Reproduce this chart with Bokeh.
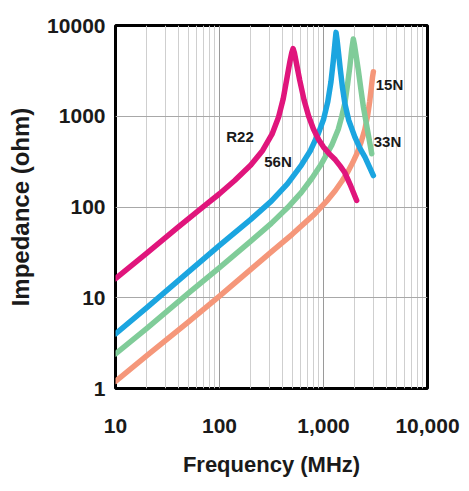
from bokeh.plotting import figure
from bokeh.models import FixedTicker
from bokeh.core.properties import value
from bokeh.embed import file_html
from bokeh.resources import INLINE

# ---- data ----
r22_f = [10, 20, 40, 70, 100, 140, 200, 260, 320, 370, 410, 445, 475, 495, 510, 525, 550, 590, 650, 720, 800, 900, 1000, 1150, 1300, 1450, 1600, 1800, 2084]
r22_z = [16.2, 31, 60, 101, 140, 196, 290, 420, 635, 980, 1560, 2630, 3980, 5000, 5560, 5000, 3800, 2510, 1510, 1000, 725, 550, 457, 380, 331, 282, 240, 178, 118]

n56_f = [10, 20, 50, 100, 200, 315, 450, 613, 750, 889, 1000, 1100, 1180, 1240, 1290, 1320, 1350, 1400, 1450, 1520, 1607, 1750, 2004, 2250, 2505, 2750, 3018]
n56_z = [4.0, 7.8, 19.2, 37.7, 73, 116, 180, 290, 420, 640, 920, 1450, 2400, 4000, 6500, 8400, 7000, 4800, 3300, 2100, 1372, 900, 588, 440, 354, 280, 222]

n33_f = [10, 20, 50, 100, 200, 315, 450, 613, 780, 957, 1200, 1387, 1500, 1607, 1700, 1796, 1870, 1935, 1990, 2080, 2163, 2300, 2420, 2650, 2910]
n33_z = [2.4, 4.6, 11.2, 21.5, 42, 66, 98, 145, 210, 300, 480, 720, 1000, 1400, 2200, 3600, 5500, 7100, 6000, 4300, 3200, 1900, 1260, 700, 386]

n15_f = [10, 20, 50, 100, 200, 315, 500, 824, 1100, 1300, 1500, 1700, 1900, 2100, 2300, 2500, 2650, 2780, 2880, 2960, 3018]
n15_z = [1.2, 2.3, 5.4, 10.4, 20.5, 32, 50, 84, 120, 152, 192, 240, 305, 390, 520, 720, 1000, 1450, 2050, 2700, 3100]

series_names = ["15N", "33N", "56N", "R22"]
series_colors = ["#f5977a", "#80cc99", "#1ba5e0", "#e0157c"]

label_texts = ["R22", "56N", "15N", "33N"]
label_f = [116, 269, 3177, 3041]
label_z = [598, 317, 2240, 527]

x_ticks = [10, 100, 1000, 10000]
x_tick_labels = ["10", "100", "1,000", "10,000"]
y_ticks = [1, 10, 100, 1000, 10000]
y_tick_labels = ["1", "10", "100", "1000", "10000"]

FONT = "Liberation Sans"

p = figure(width=469, height=491, x_axis_type="log", y_axis_type="log",
           x_range=(10, 10000), y_range=(1, 10000),
           output_backend="svg", toolbar_location=None,
           min_border_left=115, min_border_right=42,
           min_border_top=25, min_border_bottom=103)

p.background_fill_color = "white"
p.border_fill_color = "white"
p.outline_line_color = "black"
p.outline_line_width = 3

x_minor = [k * 10 ** n for n in range(1, 4) for k in range(2, 10)]
p.xaxis.ticker = FixedTicker(ticks=x_ticks, minor_ticks=x_minor)
p.yaxis.ticker = FixedTicker(ticks=y_ticks)
p.xaxis.major_label_overrides = {t: l for t, l in zip(x_ticks, x_tick_labels)}
p.yaxis.major_label_overrides = {t: l for t, l in zip(y_ticks, y_tick_labels)}

for ax in (p.xaxis, p.yaxis):
    ax.axis_line_color = None
    ax.major_tick_line_color = None
    ax.minor_tick_line_color = None
    ax.major_tick_out = 0
    ax.minor_tick_out = 0
    ax.major_tick_in = 0
    ax.minor_tick_in = 0
    ax.major_label_text_font = FONT
    ax.major_label_text_font_style = "bold"
    ax.major_label_text_font_size = "21px"
    ax.major_label_text_color = "#1a1a1a"
    ax.axis_label_text_font = FONT
    ax.axis_label_text_font_style = "bold"
    ax.axis_label_text_color = "#1a1a1a"

p.xaxis.major_label_standoff = 30
p.xaxis.axis_label = "Frequency (MHz)"
p.xaxis.axis_label_text_font_size = "22px"
p.xaxis.axis_label_standoff = 16

p.yaxis.major_label_standoff = 10
p.yaxis.axis_label = "Impedance (ohm)"
p.yaxis.axis_label_text_font_size = "24px"
p.yaxis.axis_label_standoff = 10

p.xgrid.grid_line_color = "#9a9a9a"
p.xgrid.minor_grid_line_color = "#cfcfcf"
p.ygrid.grid_line_color = "#a8a8a8"
p.ygrid.minor_grid_line_color = None

data = {"15N": (n15_f, n15_z), "33N": (n33_f, n33_z), "56N": (n56_f, n56_z), "R22": (r22_f, r22_z)}
for name, col in zip(series_names, series_colors):
    f, z = data[name]
    p.line(f, z, line_color=col, line_width=5.5, line_join="round", line_cap="round")

p.text(x=label_f, y=label_z, text=label_texts, text_font=value(FONT),
       text_font_style="bold", text_font_size="15px", text_color="#1a1a1a",
       text_align="left", text_baseline="middle")

open("out.html", "w").write(file_html(p, INLINE))
